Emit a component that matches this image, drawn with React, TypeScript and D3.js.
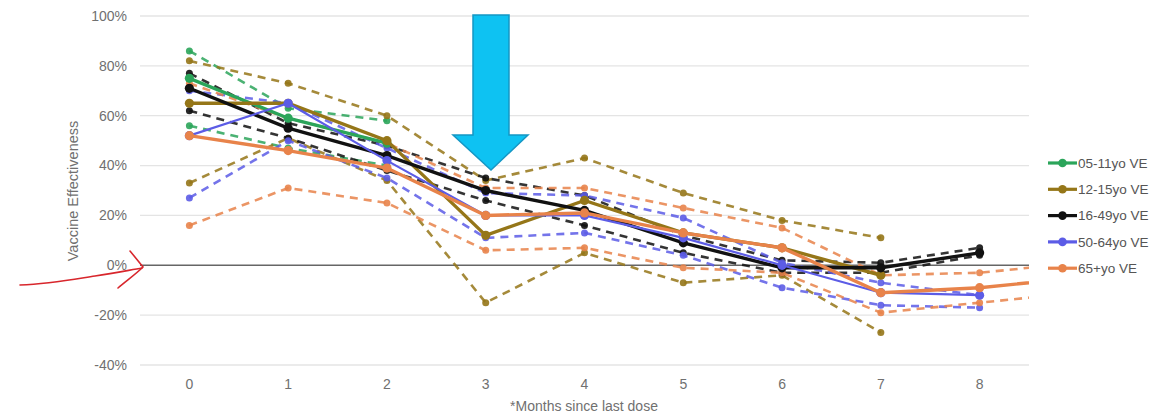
import React from 'react';
import * as d3 from 'd3';

// months since last dose (9 is only partly visible at the right edge)
const months = [0, 1, 2, 3, 4, 5, 6, 7, 8, 9];
const yTicks = [-40, -20, 0, 20, 40, 60, 80, 100];

const ve0511 = [75, 59, 49];
const ve0511Hi = [86, 63, 58];
const ve0511Lo = [56, 47, 40];

const ve1215 = [65, 65, 50, 12, 26, 13, 7, -4];
const ve1215Hi = [82, 73, 60, 34, 43, 29, 18, 11];
const ve1215Lo = [33, 51, 34, -15, 5, -7, -4, -27];

const ve1649 = [71, 55, 44, 30, 22, 9, -1, -1, 5];
const ve1649Hi = [77, 57, 48, 35, 28, 12, 2, 1, 7];
const ve1649Lo = [62, 51, 38, 26, 16, 5, -3, -3, 4];

const ve5064 = [52, 65, 42, 20, 20, 11, 0, -11, -12];
const ve5064Hi = [70, 65, 47, 29, 28, 19, 1, -7, -12];
const ve5064Lo = [27, 50, 35, 11, 13, 4, -9, -16, -17];

const ve65 = [52, 46, 39, 20, 21, 13, 7, -11, -9, -5];
const ve65Hi = [73, 59, 49, 31, 31, 23, 15, -4, -3, 1];
const ve65Lo = [16, 31, 25, 6, 7, -1, -3, -19, -15, -11];

const series = [
  { name: '05-11yo VE', color: '#2ba55a', mid: ve0511, hi: ve0511Hi, lo: ve0511Lo },
  { name: '12-15yo VE', color: '#957618', mid: ve1215, hi: ve1215Hi, lo: ve1215Lo },
  { name: '16-49yo VE', color: '#111111', mid: ve1649, hi: ve1649Hi, lo: ve1649Lo },
  { name: '50-64yo VE', color: '#5c5ce6', mid: ve5064, hi: ve5064Hi, lo: ve5064Lo },
  { name: '65+yo VE', color: '#e8834a', mid: ve65, hi: ve65Hi, lo: ve65Lo },
];

const W = 1169;
const H = 418;
const left = 140;
const right = 1029;

const App = () => {
  const x = d3.scaleLinear().domain([-0.5, 8.5]).range([left, right]);
  const y = d3.scaleLinear().domain([-40, 100]).range([365, 16]);

  const line = d3.line<number>()
    .x((d, i) => x(months[i]))
    .y(d => y(d));

  const font = '"Liberation Sans", Arial, sans-serif';

  return (
    <div style={{ position: 'fixed', top: 0, left: 0 }}>
      <svg width={W} height={H} style={{ display: 'block', background: '#fff' }} fontFamily={font}>
        <defs>
          <clipPath id="plot">
            <rect x={left} y={0} width={right - left} height={H} />
          </clipPath>
        </defs>

        {yTicks.map(t => (
          <g key={t}>
            <line x1={left} x2={right} y1={y(t)} y2={y(t)}
              stroke={t === 0 ? '#666' : '#e4e4e4'} strokeWidth={t === 0 ? 1.4 : 1.3} />
            <text x={127} y={y(t)} dy="0.35em" textAnchor="end" fontSize={14} fill="#707070">{t}%</text>
          </g>
        ))}

        {months.slice(0, 9).map(m => (
          <text key={m} x={x(m)} y={389} textAnchor="middle" fontSize={14} fill="#707070">{m}</text>
        ))}

        <text transform="translate(78,191) rotate(-90)" textAnchor="middle" fontSize={14.5} fill="#707070">
          Vaccine Effectiveness
        </text>
        <text x={584} y={411} textAnchor="middle" fontSize={14} fill="#707070">*Months since last dose</text>

        <g clipPath="url(#plot)">
          {series.map(s => (
            <g key={s.name + 'ci'}>
              {[s.hi, s.lo].map((arr, k) => (
                <g key={k}>
                  <path d={line(arr) || ''} fill="none" stroke={s.color} strokeWidth={2.6}
                    strokeDasharray="8,6" opacity={0.85} />
                  {arr.map((v, i) => (
                    <circle key={i} cx={x(months[i])} cy={y(v)} r={3.5} fill={s.color} opacity={0.9} />
                  ))}
                </g>
              ))}
            </g>
          ))}
          {series.map(s => (
            <g key={s.name}>
              <path d={line(s.mid) || ''} fill="none" stroke={s.color}
                strokeWidth={s.name === '50-64yo VE' ? 2.2 : 3.4} />
              {s.mid.map((v, i) => (
                <circle key={i} cx={x(months[i])} cy={y(v)} r={4.6} fill={s.color} />
              ))}
            </g>
          ))}
        </g>

        {series.map((s, i) => (
          <g key={'lg' + s.name} transform={`translate(1048,${163 + i * 26.3})`}>
            <line x1={0} x2={29} y1={0} y2={0} stroke={s.color} strokeWidth={3.2} />
            <circle cx={14.5} cy={0} r={4.3} fill={s.color} />
            <text x={30} y={0} dy="0.35em" fontSize={13.5} fill="#555">{s.name}</text>
          </g>
        ))}

        {/* blue annotation arrow */}
        <path d="M473,15 L509,15 L509,135 L528,135 L491,170 L453,135 L473,135 Z"
          fill="#0ec2f2" stroke="#1596c4" strokeWidth={1.5} />

        {/* red hand-drawn arrow */}
        <path d="M20,285 C50,284 70,280 95,276 C115,273 130,270 142,268"
          fill="none" stroke="#d8262c" strokeWidth={1.6} strokeLinecap="round" />
        <path d="M130,251 C135,257 139,262 143,267 C136,274 126,281 118,288"
          fill="none" stroke="#d8262c" strokeWidth={1.6} strokeLinecap="round" />
      </svg>
    </div>
  );
};

export default App;
